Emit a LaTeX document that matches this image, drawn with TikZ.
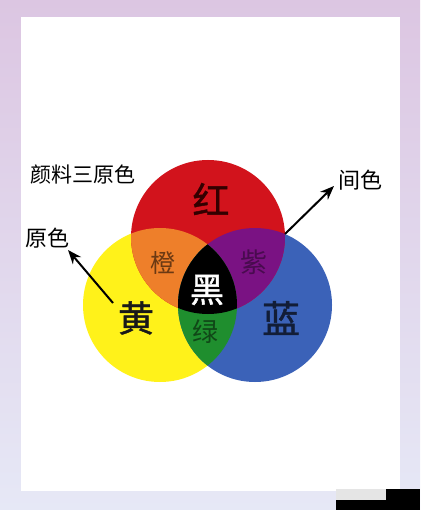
\documentclass[tikz,border=0pt]{standalone}
\usepackage{fontspec}
\newfontfamily\cjk{Noto Sans CJK SC}
\newfontfamily\cjkm[FakeBold=1.2]{Noto Sans CJK SC}
\usetikzlibrary{arrows.meta}
\definecolor{cred}{HTML}{D2131C}
\definecolor{cyel}{HTML}{FFF21A}
\definecolor{cblu}{HTML}{3B62B8}
\definecolor{corg}{HTML}{EE7F2A}
\definecolor{cpur}{HTML}{7A1283}
\definecolor{cgrn}{HTML}{1F8E2E}
\definecolor{bgtop}{HTML}{DCC6E2}
\definecolor{bgbot}{HTML}{E6E8F6}
\begin{document}
\begin{tikzpicture}[x=1pt,y=-1pt,
  lbl/.style={font=\cjk\fontsize{#1}{#1}\selectfont, inner sep=0pt},
  blbl/.style={font=\cjkm\fontsize{#1}{#1}\selectfont, inner sep=0pt},
  ring/.style={circle, minimum size=154pt, inner sep=0pt},
  arr/.style={-{Stealth[length=14pt,width=11pt]}, line width=2pt, black}]
\useasboundingbox (0,0) rectangle (420,510);
\shade[top color=bgtop, bottom color=bgbot] (0,0) rectangle (420,510);
\fill[white] (21,17) rectangle (400,491);
% circles
\def\R{77}
\coordinate (cr) at (208,237);
\coordinate (cy) at (160,305);
\coordinate (cb) at (255,305);
\node[ring, fill=cyel] (ycirc) at (cy) {};
\node[ring, fill=cblu] (bcirc) at (cb) {};
\node[ring, fill=cred] (rcirc) at (cr) {};
\begin{scope}
  \clip (cr) circle (\R);
  \fill[corg] (cy) circle (\R);
  \fill[cpur] (cb) circle (\R);
\end{scope}
\begin{scope}
  \clip (cy) circle (\R);
  \fill[cgrn] (cb) circle (\R);
  \clip (cb) circle (\R);
  \fill[black] (cr) circle (\R);
\end{scope}
% labels
\node[blbl=37, text=black!80!red] (hong) at (211,199) {红};
\node[lbl=25, text=corg!45!black] (cheng) at (163,263) {橙};
\node[lbl=27, text=cpur!60!black] (zi) at (254,262) {紫};
\node[blbl=34, text=white] (hei) at (207,290) {黑};
\node[blbl=36, text=black!90] (huang) at (136,318) {黄};
\node[lbl=26, text=cgrn!50!black] (lv) at (205,332) {绿};
\node[blbl=38, text=cblu!30!black] (lan) at (281,318) {蓝};
\node[lbl=21, anchor=west] (title) at (30,175) {颜料三原色};
\node[lbl=22, anchor=west] (yuan) at (25,238) {原色};
\node[lbl=22, anchor=west] (jian) at (338,180) {间色};
% arrows
\coordinate (a1s) at (113,303);
\coordinate (a2s) at (285,234);
\coordinate (a1e) at (68,250);
\coordinate (a2e) at (334,186);
\draw[arr] (a1s) -- (a1e);
\draw[arr] (a2s) -- (a2e);
% watermark box
\fill[black] (336,489) rectangle (420,510);
\fill[white!90!black] (336,489) rectangle (386,500);
\end{tikzpicture}
\end{document}
